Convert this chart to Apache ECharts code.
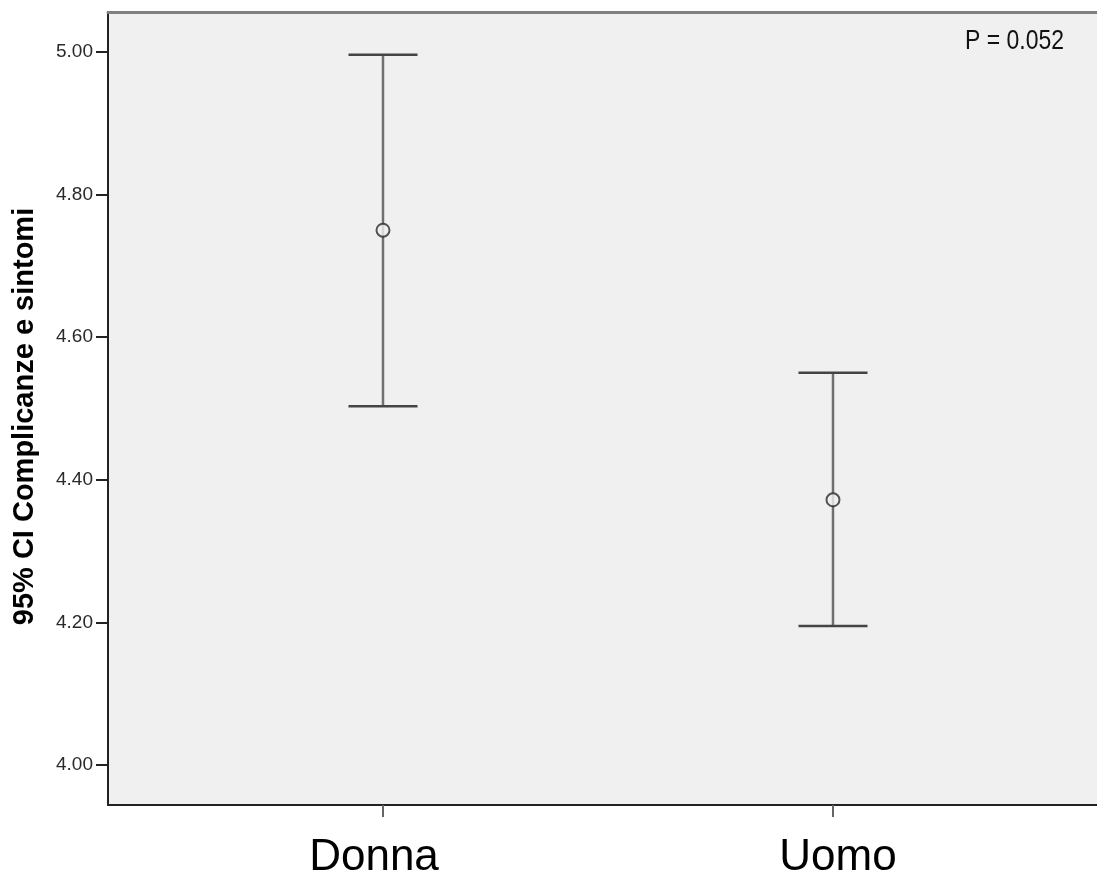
<!DOCTYPE html>
<html>
<head>
<meta charset="utf-8">
<script src="https://cdn.jsdelivr.net/npm/echarts@6/dist/echarts.min.js"></script>
<style>
html,body{margin:0;padding:0;background:#fff;}
#c{width:1097px;height:879px;}
</style>
</head>
<body>
<div id="c"></div>
<script>
const categories = ['Donna', 'Uomo'];
const means = [4.750, 4.372];
const lower = [4.503, 4.195];
const upper = [4.996, 4.550];
const yTicks = [4.00, 4.20, 4.40, 4.60, 4.80, 5.00];
const yTitle = '95% CI Complicanze e sintomi';
const pNote = 'P = 0.052';

const chart = echarts.init(document.getElementById('c'));
const catIdx = categories.map((c, i) => i);
const barData = categories.map((c, i) => [i, lower[i], upper[i]]);
const meanData = categories.map((c, i) => [i, means[i]]);
const xMin = -0.6111, xMax = 1.5867;
const labelFont = {fontSize: 44, fontFamily: 'Liberation Sans, Arial, sans-serif', color: '#000'};

chart.setOption({
  animation: false,
  backgroundColor: '#ffffff',
  grid: {left: 108, top: 12, right: 0, height: 793, outerBoundsMode: 'none', containLabel: false,
    show: true, backgroundColor: '#f0f0f0', borderWidth: 0},
  xAxis: [{
    type: 'value', min: xMin, max: xMax, position: 'bottom',
    splitLine: {show: false},
    axisLine: {show: true, onZero: false, lineStyle: {color: '#222', width: 2}},
    axisTick: {show: true, customValues: catIdx, length: 12, lineStyle: {color: '#666', width: 2}},
    axisLabel: {show: true, customValues: catIdx, margin: 31, fontSize: 44,
      fontFamily: 'Liberation Sans, Arial, sans-serif', color: '#000',
      formatter: v => '{c' + Math.round(v) + '|' + categories[Math.round(v)] + '}',
      rich: {
        c0: Object.assign({padding: [0, 18, 0, 0]}, labelFont),
        c1: Object.assign({padding: [0, 0, 0, 10]}, labelFont)
      }}
  }, {
    type: 'value', min: xMin, max: xMax, position: 'top',
    splitLine: {show: false},
    axisLine: {show: true, onZero: false, lineStyle: {color: '#808080', width: 3}},
    axisTick: {show: false}, axisLabel: {show: false}
  }],
  yAxis: {
    type: 'value', min: 3.944, max: 5.056,
    splitLine: {show: false},
    axisLine: {show: true, onZero: false, lineStyle: {color: '#222', width: 2}},
    axisTick: {show: true, customValues: yTicks, length: 12, lineStyle: {color: '#222', width: 2}},
    axisLabel: {show: true, customValues: yTicks, margin: 15, fontSize: 19,
      fontFamily: 'Liberation Sans, Arial, sans-serif', color: '#2a2a2a',
      formatter: v => v.toFixed(2)},
    name: yTitle, nameLocation: 'middle', nameGap: 69, nameRotate: 90,
    nameTextStyle: {fontSize: 29, fontWeight: 'bold', color: '#000', fontFamily: 'Liberation Sans, Arial, sans-serif',
      padding: [0, 16, 0, 0]}
  },
  graphic: [{
    type: 'text', x: 1064, y: 41, scaleX: 0.82,
    style: {text: pNote, fontSize: 28, fontFamily: 'Liberation Sans, Arial, sans-serif',
      fill: '#111', align: 'right', verticalAlign: 'middle'}
  }],
  series: [{
    type: 'custom',
    data: barData,
    encode: {x: 0, y: [1, 2]},
    renderItem: function (params, api) {
      const x = api.value(0);
      const lo = api.coord([x, api.value(1)]);
      const hi = api.coord([x, api.value(2)]);
      const hw = 34.5;
      return {
        type: 'group',
        children: [
          {type: 'line', shape: {x1: lo[0], y1: lo[1], x2: hi[0], y2: hi[1]}, style: {stroke: '#707070', lineWidth: 2.5}},
          {type: 'line', shape: {x1: hi[0] - hw, y1: hi[1], x2: hi[0] + hw, y2: hi[1]}, style: {stroke: '#444', lineWidth: 2.5}},
          {type: 'line', shape: {x1: lo[0] - hw, y1: lo[1], x2: lo[0] + hw, y2: lo[1]}, style: {stroke: '#444', lineWidth: 2.5}}
        ]
      };
    },
    z: 2
  }, {
    type: 'scatter',
    data: meanData,
    symbol: 'circle',
    symbolSize: 13,
    itemStyle: {color: '#f0f0f0', borderColor: '#2a2a2a', borderWidth: 2},
    z: 3
  }]
});
</script>
</body>
</html>
